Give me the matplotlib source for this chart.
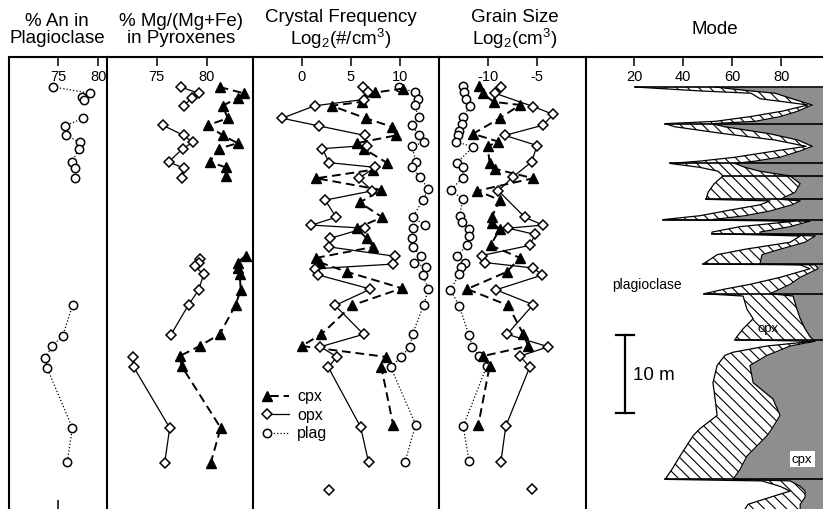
import matplotlib.pyplot as plt
import numpy as np

plt.rcParams['font.family'] = ['Liberation Sans', 'DejaVu Sans']
plt.rcParams['mathtext.fontset'] = 'custom'
plt.rcParams['mathtext.rm'] = 'Liberation Sans'
plt.rcParams['mathtext.it'] = 'Liberation Sans:italic'
plt.rcParams['axes.unicode_minus'] = False
plt.rcParams['hatch.linewidth'] = 0.8
plt.rcParams['hatch.color'] = 'black'

nan = np.nan

# heights in m above the base of the section
an_h = [54.1, 53.3, 52.8, 52.4, nan, 50.1, 49.1, 47.9, 47.0, 46.2, 44.5, 43.7, 42.4,
        nan, 26.2, 22.2, 20.9, 19.4, 18.1, 10.4, 6.0]
an = [74.4, 79.0, 77.9, 78.2, nan, 78.1, 75.8, 76.0, 77.7, 77.6, 76.7, 77.1, 77.1,
      nan, 76.8, 75.55, 74.25, 73.4, 73.6, 76.75, 76.1]

mg_opx_h = [54.1, 53.3, 52.7, 51.7, nan, 49.2, 47.9, 47.0, 46.2, 44.5, 43.7, 42.4, nan,
            32.1, 31.6, 31.1, 30.1, 28.1, 26.2, 22.3, nan, 19.5, 18.2, 10.4, 5.9]
mg_opx = [77.4, 79.2, 78.5, 77.7, nan, 75.6, 77.7, 78.6, 77.6, 76.2, 77.7, 77.5, nan,
          79.3, 79.2, 78.8, 79.7, 79.2, 78.2, 76.4, nan, 72.6, 72.7, 76.3, 75.8]
mg_cpx_h = [54.1, 53.3, 52.7, 51.7, 50.1, 49.2, 47.9, 46.9, 46.2, 44.5, 43.8, 42.7, nan,
            32.5, 31.6, 30.9, 30.1, 28.1, 26.2, 22.4, 20.9, 19.6, 18.3, 10.4, 5.9]
mg_cpx = [81.3, 83.7, 83.1, 81.6, 82.1, 80.1, 81.6, 83.1, 81.2, 80.3, 81.9, 81.9, nan,
          83.9, 83.1, 83.1, 83.3, 83.4, 82.9, 81.3, 79.3, 77.3, 77.5, 81.4, 80.4]

freq_opx_h = [54.1, 53.4, 52.5, 51.7, 50.1, 49.1, 47.9, 46.6, 46.2, 44.4, 43.8, 42.4, 40.8,
              39.6, 37.4, 36.4, 36.0, 34.7, 33.6, 32.4, 31.4, 30.8, 30.0, 28.2, 26.1, 22.4,
              20.8, 19.5, 18.2, 10.5, 6.0]
freq_opx = [6.2, 6.7, 6.3, 1.35, -2.0, 1.8, 6.4, 6.6, 2.1, 2.8, 7.5, 5.8, 7.2,
            2.4, 3.5, 1.0, 6.4, 2.9, 2.8, 9.5, 9.3, 1.35, 1.7, 7.0, 3.4, 6.3,
            1.9, 3.6, 2.7, 6.0, 6.8]
freq_cpx_h = [53.9, 53.4, 52.2, 51.7, 50.1, 49.0, 47.9, 46.9, 46.2, 44.4, 43.5, 42.4, 40.9,
              39.3, 37.4, 36.0, 34.7, 33.6, 32.2, 31.6, 30.4, 28.3, 26.1, 22.4, 20.9, 19.5,
              18.2, 10.8]
freq_cpx = [10.3, 7.5, 6.1, 3.05, 6.5, 9.2, 9.6, 5.6, 6.3, 8.65, 7.3, 1.5, 8.1,
            5.9, 8.2, 5.6, 6.6, 7.3, 1.5, 1.9, 4.6, 10.2, 5.1, 2.0, 0.0, 8.6,
            8.1, 9.3]
freq_plag_h = [54.1, 53.4, 52.6, 51.8, 50.2, 49.2, 47.9, 47.0, 46.5, 44.5, 43.8, 42.6, 41.0,
               39.6, 37.4, 36.4, 36.0, 34.7, 33.6, 32.4, 31.6, 31.0, 30.0, 28.2, 26.1, 22.5,
               20.8, 19.5, 18.2, 10.8, 6.0]
freq_plag = [9.9, 11.5, 11.8, 11.5, 11.9, 11.2, 11.95, 12.4, 11.25, 11.6, 11.25, 12.0, 12.9,
             12.3, 11.3, 12.5, 11.3, 11.25, 11.35, 12.1, 11.4, 12.6, 12.3, 12.9, 12.4, 11.3,
             11.0, 10.1, 9.05, 11.6, 10.5]
freq_opx_single = ([2.5], [2.8])

size_plag_h = [54.2, 53.4, 52.6, 51.7, 50.2, 49.4, 48.5, 47.9, 47.1, 46.4, 44.4, 43.8, 42.5,
               40.9, 39.7, 37.6, 36.8, 35.9, 35.0, 33.8, 32.4, 31.6, 31.0, 30.1, 28.1, 26.0,
               22.3, 20.8, 19.6, 18.3, 10.6, 6.2]
size_plag = [-12.5, -12.4, -12.2, -11.8, -12.5, -12.65, -12.9, -13.0, -13.2, -11.5, -13.15,
             -12.5, -12.55, -13.75, -12.55, -12.85, -12.65, -11.9, -11.9, -12.15, -13.15,
             -12.3, -12.75, -12.9, -13.8, -12.9, -11.9, -11.55, -10.85, -10.1, -12.5, -11.9]
size_cpx_h = [54.2, 53.3, 52.2, 51.8, 50.1, 48.1, 47.1, 46.5, 44.4, 43.6, 42.4, 40.8, 39.6,
              37.4, 36.7, 35.9, 33.8, 32.2, 30.4, 28.2, 26.1, 22.4, 20.9, 19.6, 18.3, 10.8]
size_cpx = [-10.85, -10.5, -9.4, -6.7, -8.75, -11.5, -8.9, -10.0, -9.8, -9.25, -5.35, -11.05,
            -8.75, -9.6, -9.55, -8.75, -9.7, -6.7, -8.05, -12.1, -7.9, -6.35, -5.85, -10.5,
            -9.8, -10.95]
size_opx_h = [54.1, 53.3, 51.6, 50.6, 49.2, 47.9, 46.6, 44.5, 42.6, 40.8, 37.4, 36.4, 36.0,
              35.2, 33.8, 32.5, 31.6, 30.9, 30.0, 28.1, 26.2, 22.4, 20.8, 19.6, 18.2, 10.6, 6.0]
size_opx = [-8.65, -9.25, -5.35, -3.3, -4.35, -8.25, -4.95, -5.5, -7.4, -8.9, -6.2, -4.35,
            -7.9, -5.15, -5.7, -10.6, -10.3, -5.35, -4.4, -9.15, -5.35, -8.0, -3.8, -6.7,
            -5.7, -8.15, -8.65]
size_opx_single = ([2.6], [-5.5])

# mode: cumulative % (plag from 0 to plag_edge, opx to opx_edge, cpx to 100)
mode_h = [54.1, 53.6, 53.3, 52.6, 51.8, 51.0, 50.3, 49.7, 49.4, 49.0, 48.1, 47.3, 46.5,
          45.9, 45.1, 44.6, 44.3, 43.8, 43.3, 42.7, 41.7, 40.6, 39.7, 39.5, 39.0, 38.2,
          37.6, 37.1, 36.9, 36.2, 35.5, 35.3, 35.0, 34.2, 33.3, 32.6, 31.4, 31.3, 30.8,
          29.7, 28.8, 28.2, 27.6, 27.3, 25.6, 24.4, 23.1, 22.1, 21.7, 21.5, 20.9, 20.1,
          19.7, 18.4, 16.2, 14.1, 12.0, 10.3, 9.4, 6.8, 5.1, 3.8, 3.6, 2.9, 2.3, 1.5, 0.6, 0.0]
plag_edge = [20.4, 46.9, 67.8, 71.4, 91.0, 80.4, 67.3, 53.1, 32.7, 36.7, 57.1, 77.6, 90.2,
             77.6, 61.2, 46.9, 34.7, 46.9, 54.3, 56.3, 52.7, 50.2, 49.4, 75.5, 71.4, 57.1,
             46.9, 31.8, 85.7, 63.3, 51.8, 51.8, 87.8, 83.7, 65.3, 53.9, 48.2, 87.8, 91.8,
             79.6, 67.3, 57.1, 48.6, 64.5, 66.1, 68.6, 64.5, 62.0, 61.2, 93.1, 74.3, 60.4,
             57.1, 53.9, 52.2, 53.1, 53.9, 46.9, 44.1, 38.8, 35.5, 32.7, 72.2, 79.6, 83.7,
             75.5, 66.5, 65.3]
opx_edge = [53.1, 67.3, 77.6, 84.5, 92.7, 86.9, 79.6, 69.4, 51.8, 57.1, 75.5, 86.9, 92.7,
            87.8, 79.6, 69.4, 61.2, 65.3, 71.4, 83.7, 87.8, 85.7, 79.6, 87.8, 84.5, 75.5,
            65.3, 51.8, 91.8, 83.7, 71.4, 71.4, 93.9, 89.8, 79.6, 72.2, 71.4, 93.9, 95.1,
            87.8, 83.7, 79.6, 75.5, 84.9, 86.5, 87.8, 89.8, 91.8, 93.1, 93.9, 83.7, 77.6,
            74.3, 67.3, 68.6, 76.7, 79.6, 76.3, 74.3, 66.1, 63.3, 60.4, 83.7, 87.8, 89.8,
            89.8, 87.8, 87.8]
unit_bases = [54.1, 49.4, 44.3, 42.7, 39.7, 37.1, 35.3, 31.4, 27.6, 21.7, 3.8]

titles = ["% An in\nPlagioclase", "% Mg/(Mg+Fe)\nin Pyroxenes",
          "Crystal Frequency\nLog$_2$(#/cm$^3$)", "Grain Size\nLog$_2$(cm$^3$)", "Mode"]
title_x = [57, 181, 341, 515, 715]
xlims = [(68.87, 81.12), (70.08, 84.66), (-4.92, 14.02), (-14.92, 0.0), (0.2, 97.1)]
xticks = [[75, 80], [75, 80], [0, 5, 10], [-10, -5], [20, 40, 60, 80]]

W, H = 823, 510
edges = [9, 107.5, 253.3, 439.5, 585.5, 823]
top = 58
ytop = (H - top) / 7.8

cpx_style = dict(marker='^', color='k', mfc='k', ms=7, ls=(0, (4.5, 2.5)), lw=1.4)
opx_style = dict(marker='D', color='k', mfc='white', ms=5.3, mew=1.1, ls='-', lw=0.9)
plag_style = dict(marker='o', color='k', mfc='white', ms=6, mew=1.1, ls=':', lw=0.9)

fig = plt.figure(figsize=(W / 100, H / 100), dpi=100)
axes = []
for i in range(5):
    ax = fig.add_axes([edges[i] / W, 0, (edges[i + 1] - edges[i]) / W, (H - top) / H])
    ax.set_xlim(*xlims[i])
    ax.set_ylim(0, ytop)
    ax.set_xticks(xticks[i])
    ax.set_yticks([])
    for s in ['right', 'bottom']:
        ax.spines[s].set_visible(False)
    for s in ['left', 'top']:
        ax.spines[s].set_linewidth(1.5)
    ax.tick_params(axis='x', top=True, bottom=False, labeltop=True, labelbottom=False,
                   direction='in', length=6.5, width=1.1, pad=-19, labelsize=10.5)
    fig.text(title_x[i] / W, 1 - 30 / H, titles[i], ha='center', va='center',
             fontsize=13.5, linespacing=1.05)
    axes.append(ax)

ax1, ax2, ax3, ax4, ax5 = axes

# % An
ax1.plot(an, an_h, **plag_style)
sec = ax1.secondary_xaxis('bottom')
sec.set_xticks([75])
sec.set_xticklabels([])
sec.tick_params(direction='in', length=6.5, width=1.1)
sec.spines['bottom'].set_visible(False)

# Mg#
ax2.plot(mg_cpx, mg_cpx_h, **cpx_style)
ax2.plot(mg_opx, mg_opx_h, **opx_style)

# crystal frequency
ax3.plot(freq_plag, freq_plag_h, **plag_style)
ax3.plot(freq_cpx, freq_cpx_h, **cpx_style)
ax3.plot(freq_opx, freq_opx_h, **opx_style)
ax3.plot(freq_opx_single[1], freq_opx_single[0], **{**opx_style, 'ls': 'none'})

# legend drawn by hand: marker on the left, line to the right
for j, (lab, st) in enumerate([("cpx", cpx_style), ("opx", opx_style), ("plag", plag_style)]):
    yy = 0.251 - j * 0.041
    ax3.plot([0.09, 0.19], [yy, yy], transform=ax3.transAxes, color='k',
             ls=st['ls'], lw=st['lw'])
    ax3.plot([0.072], [yy], transform=ax3.transAxes, **{**st, 'ls': 'none'})
    ax3.text(0.235, yy, lab, transform=ax3.transAxes, va='center', fontsize=11.5)

# grain size
ax4.plot(size_plag, size_plag_h, **plag_style)
ax4.plot(size_cpx, size_cpx_h, **cpx_style)
ax4.plot(size_opx, size_opx_h, **opx_style)
ax4.plot(size_opx_single[1], size_opx_single[0], **{**opx_style, 'ls': 'none'})

# mode
ax5.fill_betweenx(mode_h, opx_edge, 100, color='#8e8e8e', lw=0)
ax5.fill_betweenx(mode_h, plag_edge, opx_edge, facecolor='white', hatch='\\\\\\', lw=0)
ax5.plot(plag_edge, mode_h, color='k', lw=0.9)
ax5.plot(opx_edge, mode_h, color='k', lw=0.9)
hr = mode_h[::-1]
base_x = np.interp(unit_bases, hr, plag_edge[::-1])
for hb, xb in zip(unit_bases, base_x):
    ax5.plot([xb, 100], [hb, hb], color='k', lw=1.2)

ax5.text(25.3, 28.8, "plagioclase", ha='center', va='center', fontsize=10)
ax5.text(74.7, 23.2, "opx", ha='center', va='center', fontsize=9.5)
ax5.text(88.6, 6.4, "cpx", ha='center', va='center', fontsize=9.5,
         bbox=dict(facecolor='white', edgecolor='none', pad=1.5))
# 10 m scale bar
ax5.plot([16.3, 16.3], [12.3, 22.3], color='k', lw=1.6)
ax5.plot([12.7, 20.0], [22.3, 22.3], color='k', lw=1.6)
ax5.plot([12.7, 20.0], [12.3, 12.3], color='k', lw=1.6)
ax5.text(19.6, 17.3, "10 m", va='center', fontsize=13.5)

fig.savefig("out.png", dpi=100)
